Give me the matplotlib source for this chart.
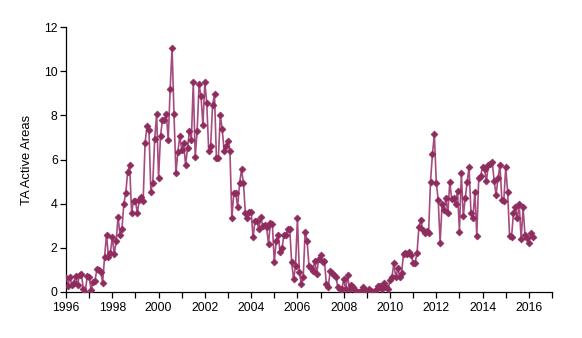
import matplotlib
matplotlib.use("Agg")
import matplotlib.pyplot as plt
import numpy as np
from matplotlib.ticker import MultipleLocator

plt.rcParams["font.family"] = ["Liberation Sans", "DejaVu Sans"]

# Monthly count of TA active areas, January 1996 onwards
y1996 = [0.62, 0.25, 0.68, 0.30, 0.42, 0.72, 0.30, 0.78, 0.80, 0.12, 0.00, 0.72]
y1997 = [0.69, 0.09, 0.47, 0.50, 1.02, 1.00, 0.92, 0.42, 1.60, 2.60, 1.60, 1.75]
y1998 = [2.50, 1.70, 2.30, 3.40, 2.60, 2.85, 4.00, 4.50, 5.45, 5.75, 3.60, 4.10]
y1999 = [4.10, 3.60, 4.15, 4.30, 4.10, 6.75, 7.50, 7.35, 4.55, 4.95, 6.95, 8.05]
y2000 = [5.15, 7.05, 7.80, 7.80, 8.05, 6.90, 9.17, 11.07, 8.05, 5.37, 6.35, 7.05]
y2001 = [6.45, 6.75, 5.75, 6.50, 7.30, 6.90, 9.50, 6.10, 7.30, 9.40, 8.87, 7.55]
y2002 = [9.50, 8.54, 6.38, 6.60, 8.46, 8.96, 6.05, 6.05, 8.00, 7.36, 6.38, 6.60]
y2003 = [6.85, 6.38, 3.33, 4.47, 4.47, 3.86, 4.92, 5.55, 4.95, 3.59, 3.33, 3.63]
y2004 = [3.63, 2.47, 3.23, 3.23, 2.84, 3.38, 2.99, 3.03, 2.95, 2.17, 3.14, 3.08]
y2005 = [1.34, 2.32, 2.58, 1.82, 1.98, 2.58, 2.58, 2.84, 2.84, 1.37, 0.57, 1.18]
y2006 = [3.33, 0.92, 0.36, 0.66, 2.73, 2.32, 1.18, 1.07, 0.96, 1.42, 0.81, 1.50]
y2007 = [1.67, 1.37, 1.42, 0.36, 0.24, 0.96, 0.87, 0.77, 0.66, 0.21, 0.12, 0.12]
y2008 = [0.57, 0.12, 0.77, 0.12, 0.30, 0.21, 0.09, 0.00, 0.00, 0.06, 0.21, 0.10]
y2009 = [0.01, 0.12, 0.06, 0.01, 0.05, 0.12, 0.27, 0.27, 0.12, 0.39, 0.21, 0.12]
y2010 = [0.54, 0.66, 1.30, 0.66, 1.07, 0.66, 0.85, 1.72, 1.78, 1.72, 1.82, 1.67]
y2011 = [1.33, 1.33, 1.75, 2.95, 3.26, 2.81, 2.66, 2.75, 2.66, 4.99, 6.23, 7.15]
y2012 = [4.95, 4.16, 2.23, 3.98, 3.71, 4.24, 3.56, 4.99, 4.19, 4.24, 3.97, 4.58]
y2013 = [2.73, 5.37, 3.44, 4.24, 4.99, 5.64, 3.56, 3.33, 4.55, 2.55, 5.14, 5.25]
y2014 = [5.66, 5.55, 5.04, 5.75, 5.80, 5.90, 5.04, 4.39, 5.14, 5.75, 4.16, 4.13]
y2015 = [5.64, 4.54, 2.53, 2.47, 3.56, 3.86, 3.33, 3.98, 2.38, 3.83, 2.58, 2.43]
y2016 = [2.23, 2.66, 2.47]

values = np.array(y1996 + y1997 + y1998 + y1999 + y2000 + y2001 + y2002 + y2003
                  + y2004 + y2005 + y2006 + y2007 + y2008 + y2009 + y2010 + y2011
                  + y2012 + y2013 + y2014 + y2015 + y2016)
start_year = 1996
t = start_year + np.arange(len(values)) / 12.0

year_labels = [str(y) for y in range(1996, 2017, 2)]
ylabel = "TA Active Areas"

line_color = "#A64B7E"
marker_color = "#8E2C5E"

fig = plt.figure(figsize=(5.82, 3.38), dpi=100)
ax = fig.add_axes([66 / 582, 1 - 292 / 338, (552 - 66) / 582, (292 - 27) / 338])

ax.plot(t, values, color=line_color, lw=1.2, zorder=2)
ax.plot(t, values, ls="none", marker="D", ms=3.5, mfc=marker_color,
        mec=marker_color, mew=0.5, zorder=3)

ax.set_xlim(1996, 2017)
ax.set_ylim(0, 12)
ax.xaxis.set_minor_locator(MultipleLocator(1))
ax.yaxis.set_major_locator(MultipleLocator(2))
ax.set_xticks(range(1996, 2017, 2))
ax.set_xticklabels(year_labels)

for side in ("top", "right"):
    ax.spines[side].set_visible(False)
for side in ("left", "bottom"):
    ax.spines[side].set_linewidth(0.9)
    ax.spines[side].set_color("black")

ax.tick_params(axis="both", which="both", direction="out", length=4,
               width=0.9, colors="black", labelsize=8.8, pad=2)
ax.tick_params(axis="x", which="major", pad=3)

ax.set_ylabel(ylabel, fontsize=9.4, labelpad=8)

fig.savefig("out.png", dpi=100, facecolor="white")
